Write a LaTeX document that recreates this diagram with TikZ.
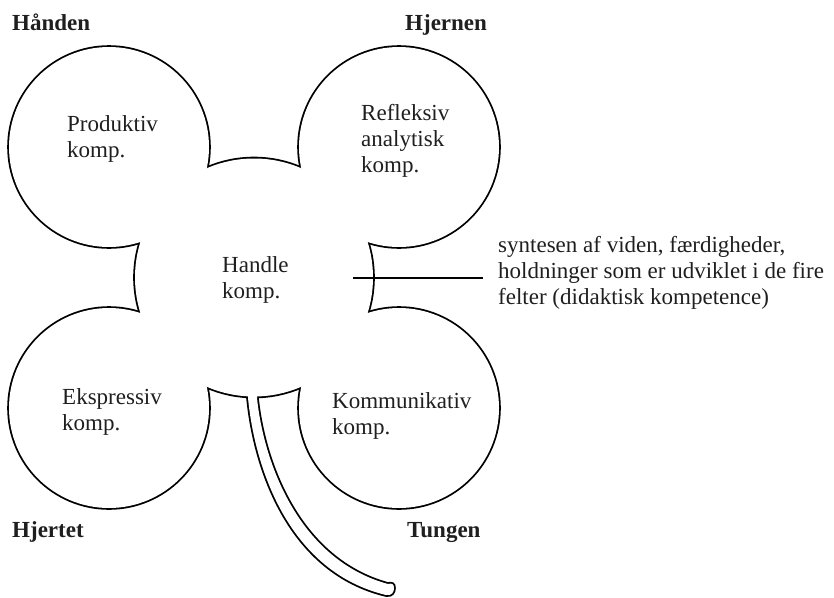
\documentclass[tikz,border=0pt]{standalone}
\usepackage{fontspec}
\setmainfont{Liberation Serif}
\usepackage{tikz}

% stalk of the clover, closed so that its top lies inside the centre
\newcommand{\stilk}{(248,360) -- (248,398)
  .. controls (255,470) and (290,572) .. (386,595)
  .. controls (392,596) and (394,592) .. (394,588)
  .. controls (394,584) and (392,583) .. (388,584)
  .. controls (300,560) and (264,465) .. (257,398)
  -- (257,360) -- cycle}

\begin{document}
\begin{tikzpicture}[x=1pt,y=-1pt,
  every node/.style={inner sep=0pt,text=black!88},
  felt/.style={anchor=base west,align=left,font=\fontsize{23}{26}\selectfont},
  organ/.style={anchor=base west,font=\fontsize{23}{26}\selectfont\bfseries},
  kontur/.style={line width=3.6pt}]
  \useasboundingbox (0,0) rectangle (834,597);
  % outline of the clover: stroke everything, then blank the insides
  \begin{scope}
    \foreach \center in {(109,147),(399,147),(109,408),(399,408)}
      \draw[kontur] \center circle (100pt);
    \draw[kontur] (254,277.5) circle (119pt);
    \draw[kontur] \stilk;
    \foreach \center in {(109,147),(399,147),(109,408),(399,408)}
      \fill[white] \center circle (100pt);
    \fill[white] (254,277.5) circle (119pt);
    \fill[white] \stilk;
  \end{scope}
  \node[organ] (haand) at (12,30) {Hånden};
  \node[organ] (hjerne) at (405,30) {Hjernen};
  \node[organ] (hjerte) at (12,537) {Hjertet};
  \node[organ] (tunge) at (407,537) {Tungen};
  % base of a multi-line node is its last line
  \node[felt] (produktiv) at (67,157) {Produktiv\\komp.};
  \node[felt] (refleksiv) at (361,172) {Refleksiv\\analytisk\\komp.};
  \node[felt] (handle) at (222,298) {Handle\\komp.};
  \node[felt] (ekspressiv) at (62,430) {Ekspressiv\\komp.};
  \node[felt] (kommunikativ) at (332,434) {Kommunikativ\\komp.};
  \node[felt] (syntese) at (498,304)
    {syntesen af viden, færdigheder,\\holdninger som er udviklet i de fire\\felter (didaktisk kompetence)};
  \coordinate (midte) at (353,278);
  \draw[line width=1.5pt,shorten >=15pt] (midte) -- (midte -| syntese.west);
\end{tikzpicture}
\end{document}
